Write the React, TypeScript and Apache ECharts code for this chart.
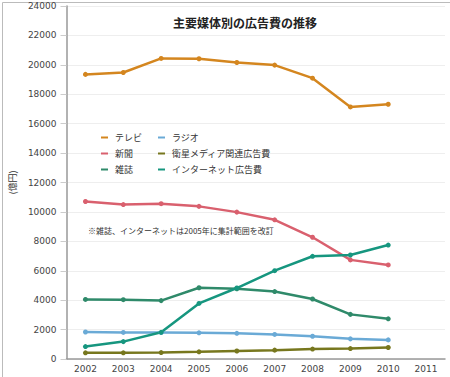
import React, { useEffect, useRef } from "react";
import * as echarts from "echarts";

const years = ["2002", "2003", "2004", "2005", "2006", "2007", "2008", "2009", "2010", "2011"];
const tv = [19351, 19480, 20436, 20411, 20161, 19981, 19092, 17139, 17321];
const newspaper = [10707, 10500, 10559, 10377, 9986, 9462, 8276, 6739, 6396];
const magazine = [4051, 4035, 3970, 4842, 4777, 4585, 4078, 3034, 2733];
const radio = [1837, 1807, 1795, 1778, 1744, 1671, 1549, 1370, 1299];
const satellite = [421, 419, 436, 487, 544, 603, 676, 709, 784];
const internet = [845, 1183, 1814, 3777, 4826, 6003, 6983, 7069, 7747];

const seriesDefs = [
  { name: "テレビ", data: tv, color: "#d4861f" },
  { name: "新聞", data: newspaper, color: "#d9606e" },
  { name: "雑誌", data: magazine, color: "#2f8a6a" },
  { name: "ラジオ", data: radio, color: "#6aaad6" },
  { name: "衛星メディア関連広告費", data: satellite, color: "#77771e" },
  { name: "インターネット広告費", data: internet, color: "#16967f" },
];

const jp = "'Noto Sans CJK JP', sans-serif";
const num = "'DejaVu Sans', sans-serif";

function makeLegend(left: number, names: string[]) {
  return {
    orient: "vertical",
    left,
    top: 133,
    padding: 0,
    icon: "rect",
    itemWidth: 7,
    itemHeight: 2,
    itemGap: 7,
    selectedMode: false,
    textStyle: { fontFamily: jp, fontSize: 9, color: "#333", padding: [0, 0, 0, 2] },
    data: names.map((n) => ({ name: n, icon: "rect" })),
  };
}

export default function App() {
  const ref = useRef<HTMLDivElement>(null);
  useEffect(() => {
    const chart = echarts.init(ref.current!, null, { renderer: "svg" });
    chart.setOption({
      animation: false,
      backgroundColor: "#fff",
      title: {
        text: "主要媒体別の広告費の推移",
        left: 240,
        top: 11,
        textAlign: "center",
        textStyle: { fontFamily: jp, fontSize: 12, fontWeight: "bold", color: "#222" },
      },
      legend: [
        makeLegend(101, ["テレビ", "新聞", "雑誌"]),
        makeLegend(158, ["ラジオ", "衛星メディア関連広告費", "インターネット広告費"]),
      ],
      grid: { left: 57, right: 5, top: 6, bottom: 18 },
      xAxis: {
        type: "category",
        data: years,
        boundaryGap: true,
        axisLine: { lineStyle: { color: "#999", width: 1.5 } },
        axisTick: { show: false },
        axisLabel: { fontFamily: num, fontSize: 9, color: "#444", margin: 5 },
      },
      yAxis: {
        type: "value",
        min: 0,
        max: 24000,
        interval: 2000,
        name: "(億円)",
        nameLocation: "middle",
        nameGap: 46,
        nameRotate: 90,
        nameTextStyle: { fontFamily: jp, fontSize: 9, color: "#333" },
        axisLine: { show: true, lineStyle: { color: "#999", width: 1.5 } },
        axisTick: { show: true, length: 6, lineStyle: { color: "#ccc" } },
        axisLabel: {
          fontFamily: num,
          fontSize: 9,
          color: "#444",
          margin: 10,
          formatter: (v: number) => String(v),
        },
        splitLine: { lineStyle: { color: "#eee" } },
      },
      graphic: [
        {
          type: "text",
          left: 88,
          top: 226,
          style: {
            text: "※雑誌、インターネットは2005年に集計範囲を改訂",
            fontFamily: jp,
            fontSize: 8,
            fill: "#333",
          },
        },
        {
          type: "rect",
          left: 0,
          top: 0,
          shape: { width: 449, height: 376 },
          style: { fill: "none", stroke: "#bbb", lineWidth: 1 },
        },
      ],
      series: seriesDefs.map((s) => ({
        name: s.name,
        type: "line",
        data: s.data,
        color: s.color,
        legendIcon: "rect",
        symbol: "circle",
        symbolSize: 5,
        lineStyle: { width: 2.5, color: s.color },
        itemStyle: { color: s.color },
      })),
    });
    return () => chart.dispose();
  }, []);
  return (
    <div
      ref={ref}
      style={{ position: "fixed", left: 0, top: 0, width: 450, height: 377 }}
    />
  );
}
